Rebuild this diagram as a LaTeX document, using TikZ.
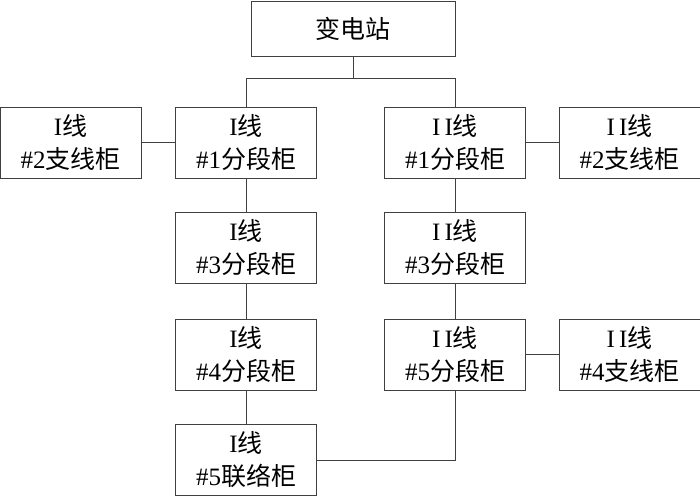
\documentclass[tikz,border=0pt]{standalone}
\usepackage{fontspec}
\setmainfont{Liberation Serif}
\newfontfamily\cjk{Noto Sans CJK SC}
\usetikzlibrary{positioning}
\tikzstyle{cab}=[draw=black!75, line width=0.8pt, minimum width=141pt, minimum height=71pt, align=center, font=\fontsize{25}{33}\selectfont]
\tikzstyle{top}=[cab, minimum width=204pt, minimum height=55pt]

\begin{document}
\begin{tikzpicture}[x=1pt,y=1pt,node distance=105.5pt,line width=0.8pt,draw=black!75]
    \useasboundingbox (0,0) rectangle (700,-496);
    \node [top] (s) at (353,-28.5) {\cjk 变电站};
    \node [cab] (a1) at (246,-142.5) {I{\cjk 线}\\\#1{\cjk 分段柜}};
    \node [cab] (a2) [below of=a1] {I{\cjk 线}\\\#3{\cjk 分段柜}};
    \node [cab] (a3) [below of=a2, node distance=106.5pt] {I{\cjk 线}\\\#4{\cjk 分段柜}};
    \node [cab] (a4) [below of=a3] {I{\cjk 线}\\\#5{\cjk 联络柜}};
    \node [cab] (l2) [left of=a1, node distance=175.5pt] {I{\cjk 线}\\\#2{\cjk 支线柜}};
    \node [cab] (b1) [right of=a1, node distance=209pt] {I\,I{\cjk 线}\\\#1{\cjk 分段柜}};
    \node [cab] (b2) [below of=b1] {I\,I{\cjk 线}\\\#3{\cjk 分段柜}};
    \node [cab] (b3) [below of=b2, node distance=106.5pt] {I\,I{\cjk 线}\\\#5{\cjk 分段柜}};
    \node [cab] (r2) [right of=b1, node distance=174.5pt] {I\,I{\cjk 线}\\\#2{\cjk 支线柜}};
    \node [cab] (r4) [right of=b3, node distance=174.5pt] {I\,I{\cjk 线}\\\#4{\cjk 支线柜}};
    \draw (a1.north) -- ++(0,28) coordinate (bus) -| (b1.north);
    \draw (s.south) -- (s.south |- bus);
    \path (l2) edge (a1);
    \path (b1) edge (r2);
    \path (a1) edge (a2);
    \path (a2) edge (a3);
    \path (a3) edge (a4);
    \path (b1) edge (b2);
    \path (b2) edge (b3);
    \path (b3) edge (r4);
    \draw (a4.east) -| (b3.south);
\end{tikzpicture}
\end{document}
